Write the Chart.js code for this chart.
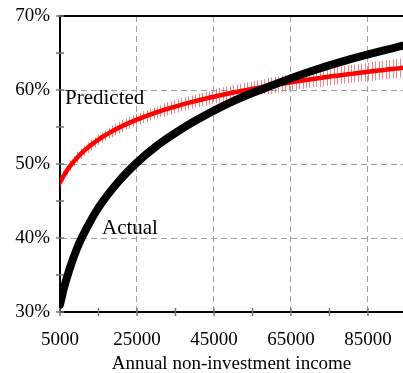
<!DOCTYPE html>
<html>
<head>
<meta charset="utf-8">
<script src="https://cdn.jsdelivr.net/npm/chart.js@4/dist/chart.umd.min.js"></script>
<style>
  body { margin: 0; background: #fff; }
  #wrap { width: 403px; height: 373px; }
</style>
</head>
<body>
<div id="wrap"><canvas id="grafico"></canvas></div>
<script>
// Predicted share (red line with little error ticks), one point every 900 of income
const incomes = [5000, 5900, 6800, 7700, 8600, 9500, 10400, 11300, 12200, 13100,
  14000, 14900, 15800, 16700, 17600, 18500, 19400, 20300, 21200, 22100,
  23000, 23900, 24800, 25700, 26600, 27500, 28400, 29300, 30200, 31100,
  32000, 32900, 33800, 34700, 35600, 36500, 37400, 38300, 39200, 40100,
  41000, 41900, 42800, 43700, 44600, 45500, 46400, 47300, 48200, 49100,
  50000, 50900, 51800, 52700, 53600, 54500, 55400, 56300, 57200, 58100,
  59000, 59900, 60800, 61700, 62600, 63500, 64400, 65300, 66200, 67100,
  68000, 68900, 69800, 70700, 71600, 72500, 73400, 74300, 75200, 76100,
  77000, 77900, 78800, 79700, 80600, 81500, 82400, 83300, 84200, 85100,
  86000, 86900, 87800, 88700, 89600, 90500, 91400, 92300, 93200, 94100];

const predicted = [47.50, 48.37, 49.12, 49.78, 50.36, 50.89, 51.37, 51.81, 52.21, 52.59,
  52.94, 53.27, 53.58, 53.87, 54.14, 54.41, 54.66, 54.90, 55.13, 55.35,
  55.56, 55.76, 55.96, 56.14, 56.33, 56.50, 56.67, 56.84, 57.00, 57.15,
  57.30, 57.45, 57.59, 57.73, 57.86, 58.00, 58.12, 58.25, 58.37, 58.49,
  58.61, 58.72, 58.84, 58.95, 59.05, 59.16, 59.26, 59.36, 59.46, 59.56,
  59.66, 59.75, 59.84, 59.94, 60.02, 60.11, 60.20, 60.28, 60.37, 60.45,
  60.53, 60.61, 60.69, 60.77, 60.84, 60.92, 60.99, 61.07, 61.14, 61.21,
  61.28, 61.35, 61.42, 61.49, 61.55, 61.62, 61.68, 61.75, 61.81, 61.88,
  61.94, 62.00, 62.06, 62.12, 62.18, 62.24, 62.30, 62.35, 62.41, 62.47,
  62.52, 62.58, 62.63, 62.68, 62.74, 62.79, 62.84, 62.89, 62.95, 63.00];

// half height of the error ticks, in percentage points
const errors = [0.7, 0.7, 0.7, 0.7, 0.7, 0.7, 0.7, 0.7, 0.7, 0.7,
  0.7, 0.7, 0.7, 0.7, 0.7, 0.8, 0.8, 0.8, 0.8, 0.8,
  0.8, 0.8, 0.8, 0.8, 0.8, 0.8, 0.8, 0.8, 0.8, 0.8,
  0.9, 0.9, 0.9, 0.9, 0.9, 0.9, 0.9, 0.9, 0.9, 0.9,
  0.9, 0.9, 0.9, 0.9, 0.9, 1.0, 1.0, 1.0, 1.0, 1.0,
  1.0, 1.0, 1.0, 1.0, 1.0, 1.0, 1.0, 1.0, 1.0, 1.0,
  1.1, 1.1, 1.1, 1.1, 1.1, 1.1, 1.1, 1.1, 1.1, 1.1,
  1.1, 1.1, 1.1, 1.1, 1.1, 1.2, 1.2, 1.2, 1.2, 1.2,
  1.2, 1.2, 1.2, 1.2, 1.2, 1.2, 1.2, 1.2, 1.2, 1.2,
  1.3, 1.3, 1.3, 1.3, 1.3, 1.3, 1.3, 1.3, 1.3, 1.3];

// Actual share (thick black curve)
const actualIncome = [5000, 5500, 6000, 7000, 8000, 10000, 12000, 15000, 20000, 25000,
  30000, 35000, 40000, 50000, 60000, 70000, 80000, 94100];
const actualShare = [31.0, 32.1, 33.2, 35.0, 36.6, 39.3, 41.4, 44.1, 47.5, 50.2,
  52.4, 54.2, 55.8, 58.5, 60.6, 62.5, 64.1, 66.0];

// axis ticks (major ones get a label and a dashed grid line)
const xTicks = [5000, 15000, 25000, 35000, 45000, 55000, 65000, 75000, 85000];
const xMajor = [5000, 25000, 45000, 65000, 85000];
const yTicks = [30, 35, 40, 45, 50, 55, 60, 65, 70];
const yMajor = [30, 40, 50, 60, 70];

// text labels inside the plot
const labelTexts = ['Predicted', 'Actual'];
const labelIncome = [6300, 15900];
const labelShare = [58.9, 41.3];

const serif = '"Liberation Serif", "Times New Roman", serif';

const extras = {
  id: 'extras',
  beforeDatasetsDraw(chart) {
    const { ctx, chartArea: area } = chart;
    const x = chart.scales.x, y = chart.scales.y;
    ctx.save();

    // error ticks of the prediction
    ctx.strokeStyle = 'rgba(255, 0, 0, 0.5)';
    ctx.lineWidth = 1;
    ctx.beginPath();
    incomes.forEach((v, i) => {
      const px = Math.round(x.getPixelForValue(v)) + 0.5;
      ctx.moveTo(px, y.getPixelForValue(predicted[i] - errors[i]));
      ctx.lineTo(px, y.getPixelForValue(predicted[i] + errors[i]));
    });
    ctx.stroke();

    // small tick marks that cross the axes
    ctx.strokeStyle = '#777';
    ctx.lineWidth = 1.5;
    ctx.beginPath();
    xTicks.forEach(v => {
      const px = x.getPixelForValue(v);
      ctx.moveTo(px, area.bottom - 4);
      ctx.lineTo(px, area.bottom + 4);
    });
    yTicks.forEach(v => {
      const py = y.getPixelForValue(v);
      ctx.moveTo(area.left - 4, py);
      ctx.lineTo(area.left + 4, py);
    });
    ctx.stroke();
    ctx.restore();
  },
  afterDatasetsDraw(chart) {
    const { ctx } = chart;
    const x = chart.scales.x, y = chart.scales.y;
    ctx.save();
    ctx.font = '21px ' + serif;
    ctx.fillStyle = '#000';
    ctx.textAlign = 'left';
    ctx.textBaseline = 'middle';
    labelTexts.forEach((t, i) => {
      ctx.fillText(t, x.getPixelForValue(labelIncome[i]), y.getPixelForValue(labelShare[i]));
    });
    ctx.restore();
  }
};

new Chart(document.getElementById('grafico'), {
  type: 'line',
  data: {
    datasets: [
      {
        label: 'Actual',
        data: actualIncome.map((v, i) => ({ x: v, y: actualShare[i] })),
        borderColor: '#000',
        borderWidth: 8,
        borderCapStyle: 'round',
        cubicInterpolationMode: 'monotone',
        pointRadius: 0,
        fill: false
      },
      {
        label: 'Predicted',
        data: incomes.map((v, i) => ({ x: v, y: predicted[i] })),
        borderColor: '#ff0000',
        borderWidth: 4.5,
        borderCapStyle: 'round',
        tension: 0,
        pointRadius: 0,
        fill: false
      }
    ]
  },
  options: {
    responsive: true,
    maintainAspectRatio: false,
    animation: false,
    layout: { padding: { top: 16, right: 0, left: 0, bottom: 0 } },
    plugins: { legend: { display: false }, tooltip: { enabled: false } },
    scales: {
      x: {
        type: 'linear',
        min: 5000,
        max: 94100,
        afterBuildTicks: s => { s.ticks = xTicks.map(v => ({ value: v })); },
        afterFit: s => {
          s.height = 61;
          s.paddingLeft = 0;
          s.paddingRight = 0;
        },
        ticks: {
          callback: v => xMajor.includes(v) ? String(v) : '',
          color: '#000',
          font: { family: serif, size: 19 },
          padding: 17,
          maxRotation: 0,
          autoSkip: false
        },
        grid: {
          drawTicks: false,
          color: c => xMajor.includes(c.tick && c.tick.value) ? '#a0a0a0' : 'rgba(0,0,0,0)',
          lineWidth: 1
        },
        border: { display: true, color: '#000', width: 2, dash: [6, 4] },
        title: {
          display: true,
          text: 'Annual non-investment income',
          color: '#000',
          font: { family: serif, size: 19 },
          padding: { top: 0, bottom: -2 }
        }
      },
      y: {
        min: 30,
        max: 70,
        afterBuildTicks: s => { s.ticks = yTicks.map(v => ({ value: v })); },
        afterFit: s => {
          s.width = 60;
          s.paddingTop = 0;
          s.paddingBottom = 0;
        },
        ticks: {
          callback: v => yMajor.includes(v) ? v + '%' : '',
          color: '#000',
          font: { family: serif, size: 19 },
          padding: 10,
          autoSkip: false
        },
        grid: {
          drawTicks: false,
          color: c => {
            const v = c.tick && c.tick.value;
            if (v === 70) return '#000';
            return yMajor.includes(v) ? '#a0a0a0' : 'rgba(0,0,0,0)';
          },
          lineWidth: c => (c.tick && c.tick.value === 70) ? 2 : 1
        },
        border: {
          display: true,
          color: '#000',
          width: 2,
          dash: c => (c.tick && c.tick.value === 70) ? [] : [6, 4]
        }
      }
    }
  },
  plugins: [extras]
});
</script>
</body>
</html>
